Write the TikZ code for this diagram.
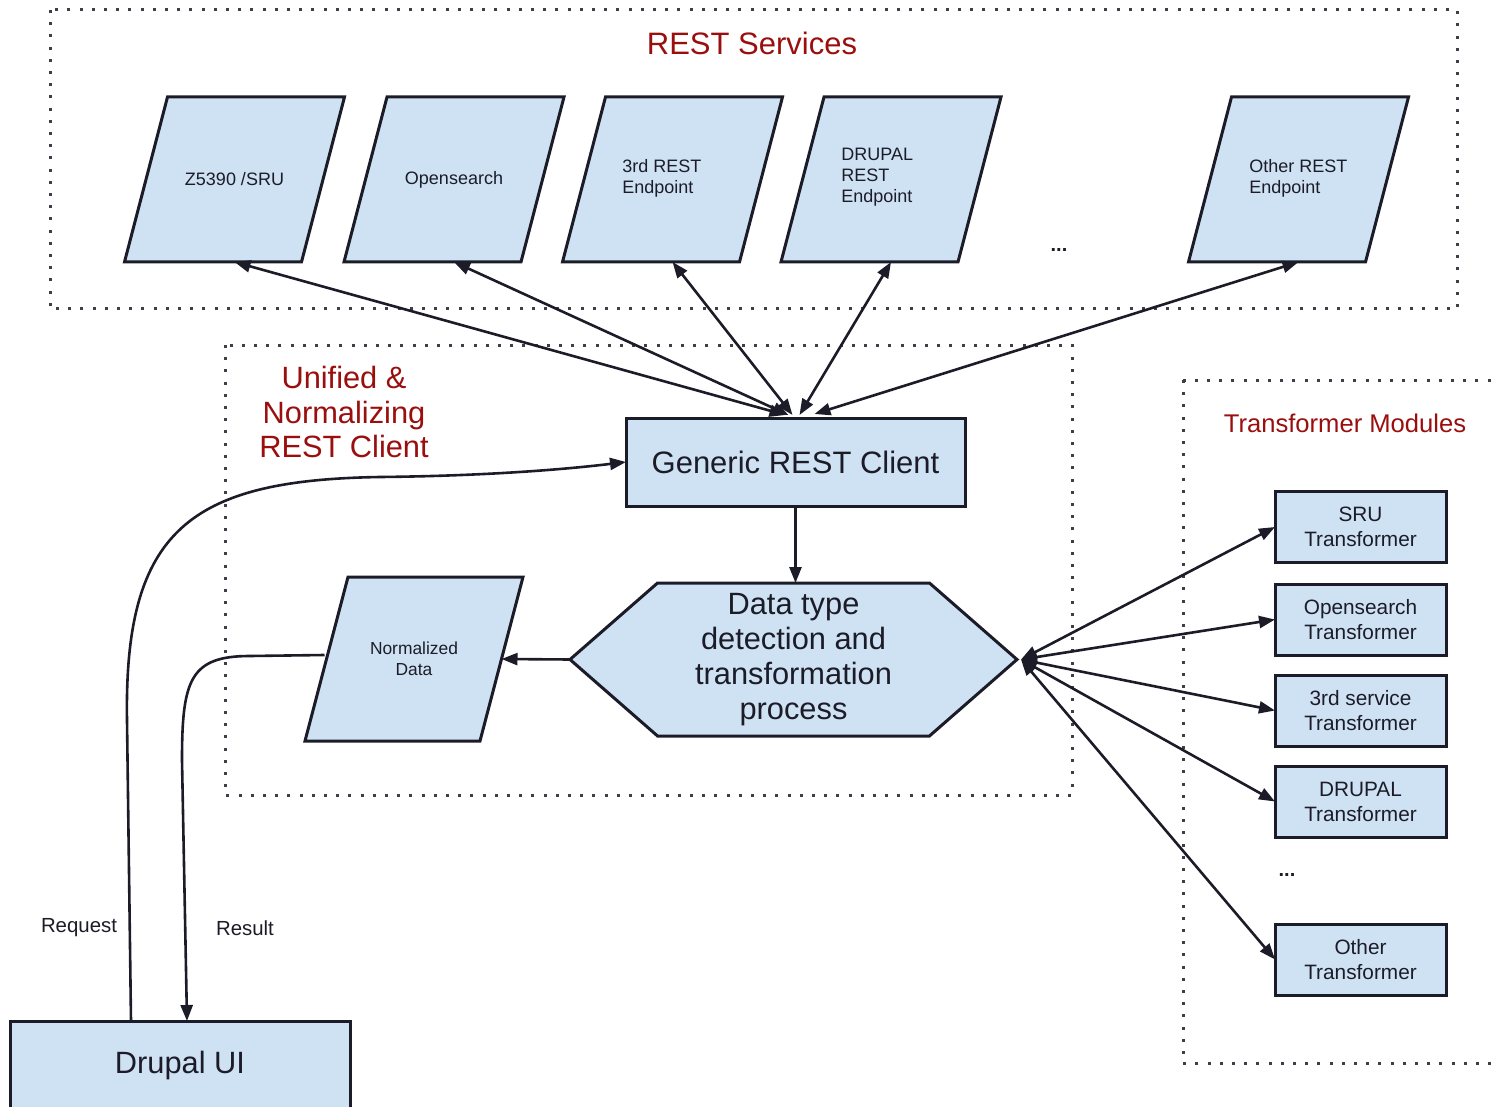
\documentclass[tikz,border=0pt]{standalone}
\usepackage{fontspec}
\setmainfont{Liberation Sans}
\usetikzlibrary{shapes.symbols,arrows.meta,calc,backgrounds}
\definecolor{boxfill}{HTML}{CFE2F3}
\definecolor{titlered}{HTML}{9A0E0E}
\definecolor{ink}{HTML}{1C1C28}
\newcommand{\paraframe}[1]{%
  \begin{pgfonlayer}{background}
    \filldraw[shp] ($(#1.south west)+(-21.5,0)$) -- ($(#1.north west)+(21.5,0)$)
      -- ($(#1.north east)+(21.5,0)$) -- ($(#1.south east)+(-21.5,0)$) -- cycle;
  \end{pgfonlayer}}
\begin{document}
\begin{tikzpicture}[x=0.5pt,y=-0.5pt,
  shp/.style={draw=ink, line width=1.5pt, fill=boxfill, text=ink, inner sep=0pt, outer sep=0pt},
  para/.style={rectangle, inner sep=0pt, outer sep=0pt, text=ink, minimum height=82.5pt, minimum width=88.5pt,
    font=\fontsize{9}{10.5}\selectfont, align=center},
  ptext/.style={text=ink, inner sep=0pt, font=\fontsize{9}{10.5}\selectfont, align=left},
  rbox/.style={shp, rectangle, align=center},
  tbox/.style={rbox, minimum width=85.5pt, minimum height=35.5pt, font=\fontsize{10.4}{12.5}\selectfont},
  hexa/.style={shp, signal, signal to=west and east, signal pointer angle=82.3,
    minimum width=223.5pt, minimum height=76.5pt, align=center,
    font=\fontsize{15.4}{17.5}\selectfont},
  title/.style={text=titlered, inner sep=0pt, align=center},
  lbl/.style={text=ink, inner sep=0pt, font=\fontsize{10.2}{12}\selectfont},
  dotbox/.style={draw=ink!85, line width=1.5pt, dash pattern=on 1.5pt off 4.6pt},
  conn/.style={draw=ink, line width=1.3pt, -{Triangle[length=8pt,width=6pt]}},
  biconn/.style={draw=ink, line width=1.3pt, {Triangle[length=8pt,width=6pt]}-{Triangle[length=8pt,width=6pt]}}
]
\useasboundingbox (0,0) rectangle (1499,1107);

% dotted groups
\draw[dotbox] (50,10) rectangle (1457,309);
\draw[dotbox] (225,345) rectangle (1072,795);
\draw[dotbox] (1183,380) rectangle (1520,1063);

% titles
\node[title, font=\fontsize{15.5}{18}\selectfont] (tRest) at (752,43) {REST Services};
\node[title, font=\fontsize{15.4}{17.3}\selectfont] (tUni) at (344,412) {Unified \&\\Normalizing\\REST Client};
\node[title, font=\fontsize{12.8}{15}\selectfont] (tTrans) at (1345,423) {Transformer Modules};

% REST endpoints
\node[para] (z) at (234.5,179.5) {Z5390 /SRU};
\paraframe{z}
\node[para] (os) at (454,179.5) {Opensearch};
\paraframe{os}
\node[para] (r3) at (672.5,179.5) {};
\paraframe{r3}
\node[ptext, anchor=west] (r3t) at (622,178.5) {3rd REST\\Endpoint};
\node[para] (dr) at (891,179.5) {};
\paraframe{dr}
\node[ptext, anchor=west] (drt) at (841,177.5) {DRUPAL\\REST\\Endpoint};
\node[para] (ot) at (1298.5,179.5) {};
\paraframe{ot}
\node[ptext, anchor=west] (ott) at (1249,178.5) {Other REST\\Endpoint};
\node[ptext, font=\bfseries\fontsize{10}{12}\selectfont] (dots1) at (1059,250) {...};

% client
\node[rbox, minimum width=169.5pt, minimum height=44pt, font=\fontsize{15.5}{18}\selectfont] (gen) at (795.5,462) {Generic REST Client};
\node[hexa] (hex) at (793.5,659.5) {Data type\\detection and\\transformation\\process};
\node[para, minimum width=87.5pt, minimum height=82pt, font=\fontsize{8.7}{10.5}\selectfont] (nd) at (414,659) {Normalized\\Data};
\paraframe{nd}

% transformers
\node[tbox] (t1) at (1360.5,527) {SRU\\Transformer};
\node[tbox] (t2) at (1360.5,619.5) {Opensearch\\Transformer};
\node[tbox] (t3) at (1360.5,710.5) {3rd service\\Transformer};
\node[tbox] (t4) at (1360.5,801.5) {DRUPAL\\Transformer};
\node[ptext, font=\bfseries\fontsize{10}{12}\selectfont] (dots2) at (1287,875) {...};
\node[tbox] (t5) at (1360.5,959.5) {Other\\Transformer};

% Drupal UI
\node[rbox, minimum width=170pt, minimum height=45pt, font=\fontsize{15.4}{18}\selectfont] (ui) at (180,1066) {Drupal UI};
\node[lbl] (lreq) at (79,928) {Request};
\node[lbl] (lres) at (245,928) {Result};

% connectors to REST endpoints
\draw[biconn] ($(gen.north)+(-10,-3)$) -- (z.south);
\draw[biconn] ($(gen.north)+(-7,-3)$) -- (os.south);
\draw[biconn] ($(gen.north)+(-3,-3)$) -- (r3.south);
\draw[biconn] ($(gen.north)+(4,-3)$) -- (dr.south);
\draw[biconn] ($(gen.north)+(19,-4)$) -- (ot.south);

% internal flow
\draw[conn] (gen.south) -- (gen.south |- hex.north);
\draw[conn] (hex.west) -- (nd.east);

% transformers
\foreach \t in {t1,t2,t3,t4,t5} \draw[biconn] ($(hex.east)+(4,0)$) -- (\t.west);

% request / result
\draw[conn] ($(ui.north west)+(121,0)$) -- (127,720)
  .. controls (124,530) and (190,480) .. (380,477)
  .. controls (480,476) and (560,470) .. (gen.west);
\draw[conn] ($(nd.west)+(-2,-4)$) -- (250,656)
  .. controls (190,656) and (182,680) .. (182,760)
  -- ($(ui.north west)+(177,0)$);
\end{tikzpicture}
\end{document}
